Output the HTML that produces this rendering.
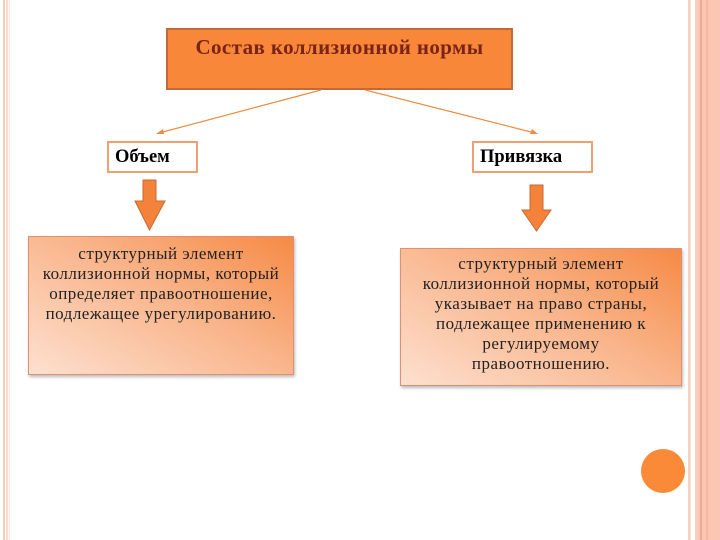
<!DOCTYPE html>
<html><head><meta charset="utf-8"><style>
body{margin:0;width:720px;height:540px;background:#fff;position:relative;overflow:hidden;font-family:"Liberation Serif",serif}
div{position:absolute;box-sizing:border-box}
.t{text-align:center;color:#222;font-size:17px;line-height:20px;letter-spacing:0.5px;white-space:nowrap}
</style></head><body>
<div style="left:3px;top:0;width:2px;height:540px;background:#f7c9b8"></div>
<div style="left:6px;top:0;width:2px;height:540px;background:#fbd9cc"></div>
<div style="left:9px;top:0;width:1px;height:540px;background:#fde8e0"></div>
<div style="left:688px;top:0;width:2px;height:540px;background:#f6d0c2"></div>
<div style="left:690px;top:0;width:1px;height:540px;background:#f8e0c8"></div>
<div style="left:695px;top:0;width:3px;height:540px;background:#f9cdbc"></div>
<div style="left:698px;top:0;width:22px;height:540px;background:#fdc6b2"></div>
<div style="left:700px;top:0;width:2px;height:540px;background:#e9ac95"></div>
<div style="left:706px;top:0;width:2px;height:540px;background:#f7b7a0"></div>

<div style="left:166px;top:28px;width:347px;height:62px;background:#f8873a;border:2px solid #c06a3a;color:#7a2418;font-weight:bold;font-size:21px;letter-spacing:0.4px;text-align:center;padding-top:5px;white-space:nowrap">Состав коллизионной нормы</div>

<svg width="720" height="540" style="position:absolute;left:0;top:0">
<line x1="321" y1="90" x2="159" y2="133" stroke="#f08a40" stroke-width="1.2"/>
<polygon points="156,134 163,129 164,134" fill="#f08a40"/>
<line x1="365" y1="90" x2="535" y2="133" stroke="#f08a40" stroke-width="1.2"/>
<polygon points="538,134 530,134 532,129" fill="#f08a40"/>
<polygon points="143,180 156,180 156,201 165,201 149.5,230 135,201 143,201" fill="#f5823a" stroke="#c86a30" stroke-width="1"/>
<polygon points="530,185 543,185 543,210 551,210 536.5,231 522,210 530,210" fill="#f5823a" stroke="#c86a30" stroke-width="1"/>
<circle cx="663" cy="471" r="22" fill="#fb8a38"/>
</svg>

<div style="left:107px;top:141px;width:91px;height:32px;border:2px solid #f0a070;background:#fff;font-weight:bold;font-size:18.5px;padding:4px 0 0 6px">Объем</div>
<div style="left:472px;top:141px;width:121px;height:32px;border:2px solid #f0a070;background:#fff;font-weight:bold;font-size:18.5px;padding:4px 0 0 6px">Привязка</div>

<div class="t" style="left:28px;top:236px;width:266px;height:139px;background:linear-gradient(30deg,#fde0cf 0%,#f9b48a 55%,#f68a45 100%);border:1px solid #e09070;box-shadow:1px 2px 3px #bbb;padding-top:7px">структурный элемент<br>коллизионной нормы, который<br>определяет правоотношение,<br>подлежащее урегулированию.</div>
<div class="t" style="left:400px;top:248px;width:282px;height:138px;background:linear-gradient(30deg,#fde0cf 0%,#f9b48a 55%,#f68a45 100%);border:1px solid #e09070;box-shadow:1px 2px 3px #bbb;padding-top:5px">структурный элемент<br>коллизионной нормы, который<br>указывает на право страны,<br>подлежащее применению к<br>регулируемому<br>правоотношению.</div>
</body></html>
